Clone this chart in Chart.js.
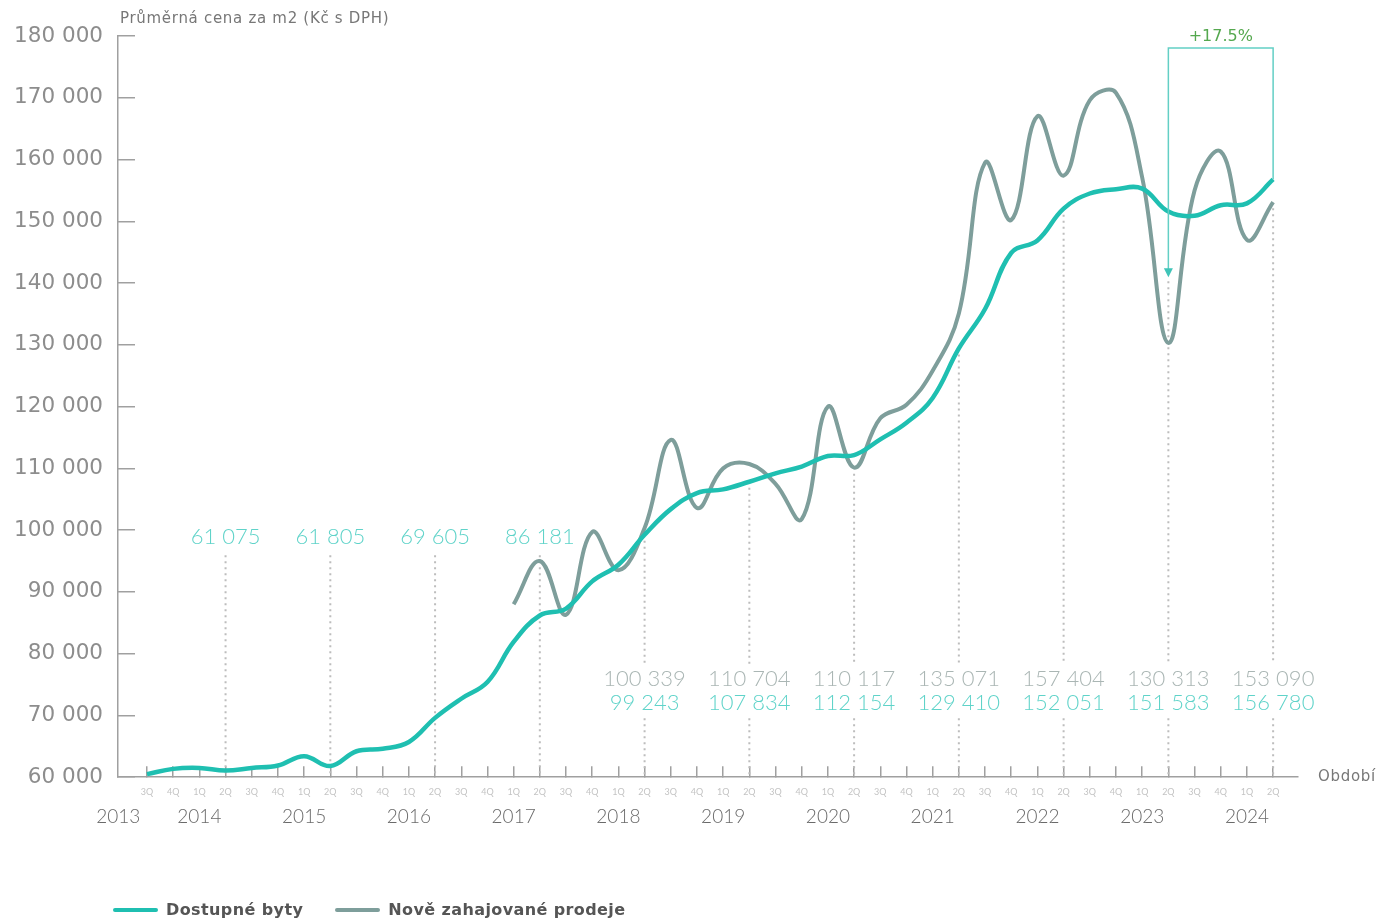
<!DOCTYPE html>
<html lang="cs">
<head>
<meta charset="utf-8">
<title>Průměrná cena za m2</title>
<script src="https://cdn.jsdelivr.net/npm/chart.js@4.4.1/dist/chart.umd.min.js"></script>
<style>
  html, body { margin: 0; padding: 0; background: #fff; }
  .wrap { position: relative; width: 1379px; height: 919px; overflow: hidden; }
  #priceChart { position: absolute; left: 0; top: 0; }
  .legend { position: absolute; left: 113px; top: 900px; display: flex; align-items: center;
            font: bold 16px 'DejaVu Sans', sans-serif; letter-spacing: 0.4px; color: #555; }
  .legend .item { display: flex; align-items: center; margin-right: 32px; }
  .legend i { display: inline-block; width: 45px; height: 4px; border-radius: 2px; margin-right: 8px; }
</style>
</head>
<body>
<div class="wrap">
  <canvas id="priceChart" width="1379" height="919"></canvas>
  <div class="legend" id="legend"></div>
</div>
<script>
// Average price per m2 (CZK incl. VAT), quarterly 3Q 2013 – 2Q 2024

const quarters = [
    '3Q', '4Q',
    '1Q', '2Q', '3Q', '4Q',
    '1Q', '2Q', '3Q', '4Q',
    '1Q', '2Q', '3Q', '4Q',
    '1Q', '2Q', '3Q', '4Q',
    '1Q', '2Q', '3Q', '4Q',
    '1Q', '2Q', '3Q', '4Q',
    '1Q', '2Q', '3Q', '4Q',
    '1Q', '2Q', '3Q', '4Q',
    '1Q', '2Q', '3Q', '4Q',
    '1Q', '2Q', '3Q', '4Q',
    '1Q', '2Q'
];
const years = ['2013', '2014', '2015', '2016', '2017', '2018', '2019', '2020', '2021', '2022', '2023', '2024'];
const yearAt = [-1.1, 2, 6, 10, 14, 18, 22, 26, 30, 34, 38, 42];

const dostupneByty = [
    60500, 61350,
    61500, 61075, 61500, 61900,
    63400, 61805, 64200, 64600,
    65700, 69605, 72700, 75400,
    81900, 86181, 87300, 91700,
    94400, 99243, 103400, 106000,
    106600, 107834, 109200, 110300,
    112000, 112154, 114700, 117400,
    121400, 129410, 135800, 144900,
    146900, 152051, 154500, 155200,
    155300, 151583, 150900, 152600,
    152900, 156780
];
const noveProdeje = [
    null, null,
    null, null, null, null,
    null, null, null, null,
    null, null, null, null,
    88000, 95000, 86300, 99700,
    93500, 100339, 114600, 103600,
    110000, 110704, 107500, 101800,
    120000, 110117, 118100, 120300,
    125800, 135071, 159500, 150200,
    167000, 157404, 169600, 170800,
    157100, 130313, 155000, 161300,
    147000, 153090
];

// quarters that carry a value label (always 2Q)
const singleLabelIdx = [3, 7, 11, 15];
const pairLabelIdx = [19, 23, 27, 31, 35, 39, 43];
const compareFrom = 39;
const compareTo = 43;

const TEAL = '#1fbfb1';
const GREY = '#7e9e9b';
const TEAL_TEXT = '#5fd3c9';
const GREY_TEXT = '#aab6b4';
const AXIS = '#a0a0a0';

const fmt = v => String(Math.round(v)).replace(/\B(?=(\d{3})+(?!\d))/g, ' ');

function vline(ctx, x, y1, y2) {
    ctx.beginPath();
    ctx.moveTo(x, y1);
    ctx.lineTo(x, y2);
    ctx.stroke();
}

function arrowTip(y) {
    return y.getPixelForValue((dostupneByty[compareFrom] + noveProdeje[compareFrom]) / 2);
}

const guidesPlugin = {
    id: 'guides',
    beforeDatasetsDraw(chart) {
        const { ctx, chartArea: area, scales: { x, y } } = chart;
        ctx.save();
        ctx.strokeStyle = '#bdbdbd';
        ctx.lineWidth = 2;
        ctx.setLineDash([2, 4]);

        singleLabelIdx.forEach(i => {
            vline(ctx, x.getPixelForValue(i), area.bottom - 222, area.bottom);
        });

        pairLabelIdx.forEach(i => {
            const px = x.getPixelForValue(i);
            let start = Math.max(y.getPixelForValue(dostupneByty[i]), y.getPixelForValue(noveProdeje[i])) + 6;
            if (i === compareFrom) start = arrowTip(y) + 4;
            vline(ctx, px, start, area.bottom - 113);
            vline(ctx, px, area.bottom - 59, area.bottom);
        });
        ctx.restore();
    },
    afterDatasetsDraw(chart) {
        const { ctx, chartArea: area, scales: { x, y } } = chart;
        ctx.save();

        // value labels
        ctx.font = '300 22px Lato, sans-serif';
        ctx.textAlign = 'center';
        ctx.textBaseline = 'middle';
        singleLabelIdx.forEach(i => {
            ctx.fillStyle = TEAL_TEXT;
            ctx.fillText(fmt(dostupneByty[i]), x.getPixelForValue(i), area.bottom - 240);
        });
        pairLabelIdx.forEach(i => {
            const px = x.getPixelForValue(i);
            ctx.fillStyle = GREY_TEXT;
            ctx.fillText(fmt(noveProdeje[i]), px, area.bottom - 98);
            ctx.fillStyle = TEAL_TEXT;
            ctx.fillText(fmt(dostupneByty[i]), px, area.bottom - 74);
        });

        // year-on-year bracket
        const x1 = x.getPixelForValue(compareFrom);
        const x2 = x.getPixelForValue(compareTo);
        const top = area.top + 12;
        const tip = arrowTip(y);
        ctx.strokeStyle = '#63cfc5';
        ctx.lineWidth = 1.5;
        ctx.beginPath();
        ctx.moveTo(x1, tip - 6);
        ctx.lineTo(x1, top);
        ctx.lineTo(x2, top);
        ctx.lineTo(x2, y.getPixelForValue(dostupneByty[compareTo]));
        ctx.stroke();
        ctx.fillStyle = '#3fc4b8';
        ctx.beginPath();
        ctx.moveTo(x1 - 4.5, tip - 9);
        ctx.lineTo(x1 + 4.5, tip - 9);
        ctx.lineTo(x1, tip);
        ctx.closePath();
        ctx.fill();

        const change = (noveProdeje[compareTo] / noveProdeje[compareFrom] - 1) * 100;
        ctx.fillStyle = '#55a84f';
        ctx.font = '16px "DejaVu Sans", sans-serif';
        ctx.fillText('+' + change.toFixed(1) + '%', (x1 + x2) / 2, area.top + 1);

        // axis captions
        ctx.fillStyle = '#777';
        ctx.textAlign = 'left';
        ctx.font = '15px "DejaVu Sans", sans-serif';
        ctx.letterSpacing = '0.7px';
        ctx.fillText('Průměrná cena za m2 (Kč s DPH)', 120, 19);
        ctx.fillText('Období', area.right + 20, area.bottom);
        ctx.restore();
    }
};

const chart = new Chart(document.getElementById('priceChart'), {
    type: 'line',
    data: {
        datasets: [{
            label: 'Dostupné byty',
            data: dostupneByty.map((v, i) => ({ x: i, y: v })),
            borderColor: TEAL,
            borderWidth: 4.5,
            tension: 0.4,
            pointRadius: 0
        }, {
            label: 'Nově zahajované prodeje',
            data: noveProdeje.map((v, i) => ({ x: i, y: v })),
            borderColor: GREY,
            borderWidth: 4,
            tension: 0.4,
            pointRadius: 0
        }]
    },
    options: {
        responsive: false,
        animation: false,
        layout: { padding: { top: 36, right: 81, bottom: 85, left: 0 } },
        plugins: {
            legend: { display: false },
            tooltip: { enabled: false }
        },
        scales: {
            x: {
                type: 'linear',
                min: -1.107,
                max: 43.95,
                afterBuildTicks: scale => {
                    scale.ticks = quarters.map((q, i) => ({ value: i }));
                },
                afterFit: scale => { scale.height = 22; },
                ticks: {
                    autoSkip: false,
                    maxRotation: 0,
                    padding: 20,
                    color: '#c4c4c4',
                    font: { family: 'Lato', size: 9 },
                    callback: value => quarters[value]
                },
                grid: { drawOnChartArea: false, tickLength: -11, color: AXIS, lineWidth: 1.5 },
                border: { color: AXIS, width: 1.5 }
            },
            years: {
                type: 'linear',
                position: 'bottom',
                min: -1.107,
                max: 43.95,
                afterBuildTicks: scale => {
                    scale.ticks = yearAt.map(v => ({ value: v }));
                },
                ticks: {
                    autoSkip: false,
                    maxRotation: 0,
                    padding: 6,
                    color: '#6a6a6a',
                    font: { family: 'Lato', size: 19, weight: '300' },
                    callback: (value, index) => years[index]
                },
                grid: { display: false, drawTicks: false },
                border: { display: false }
            },
            y: {
                min: 60000,
                max: 180000,
                afterFit: scale => {
                    // labels sit beside inward tick marks; keep the plot edges fixed
                    scale.width = 118;
                    scale.paddingTop = 0;
                    scale.paddingBottom = 0;
                },
                ticks: {
                    stepSize: 10000,
                    padding: 32,
                    color: '#8d8d8d',
                    font: { family: 'DejaVu Sans', size: 21.5 },
                    callback: value => fmt(value)
                },
                grid: { drawOnChartArea: false, tickLength: -17, color: AXIS, lineWidth: 1.5 },
                border: { color: AXIS, width: 1.5 }
            }
        }
    },
    plugins: [guidesPlugin]
});

// legend below the chart
document.getElementById('legend').innerHTML = chart.data.datasets.map(ds =>
    `<span class="item"><i style="background:${ds.borderColor}"></i>${ds.label}</span>`
).join('');
</script>
</body>
</html>
